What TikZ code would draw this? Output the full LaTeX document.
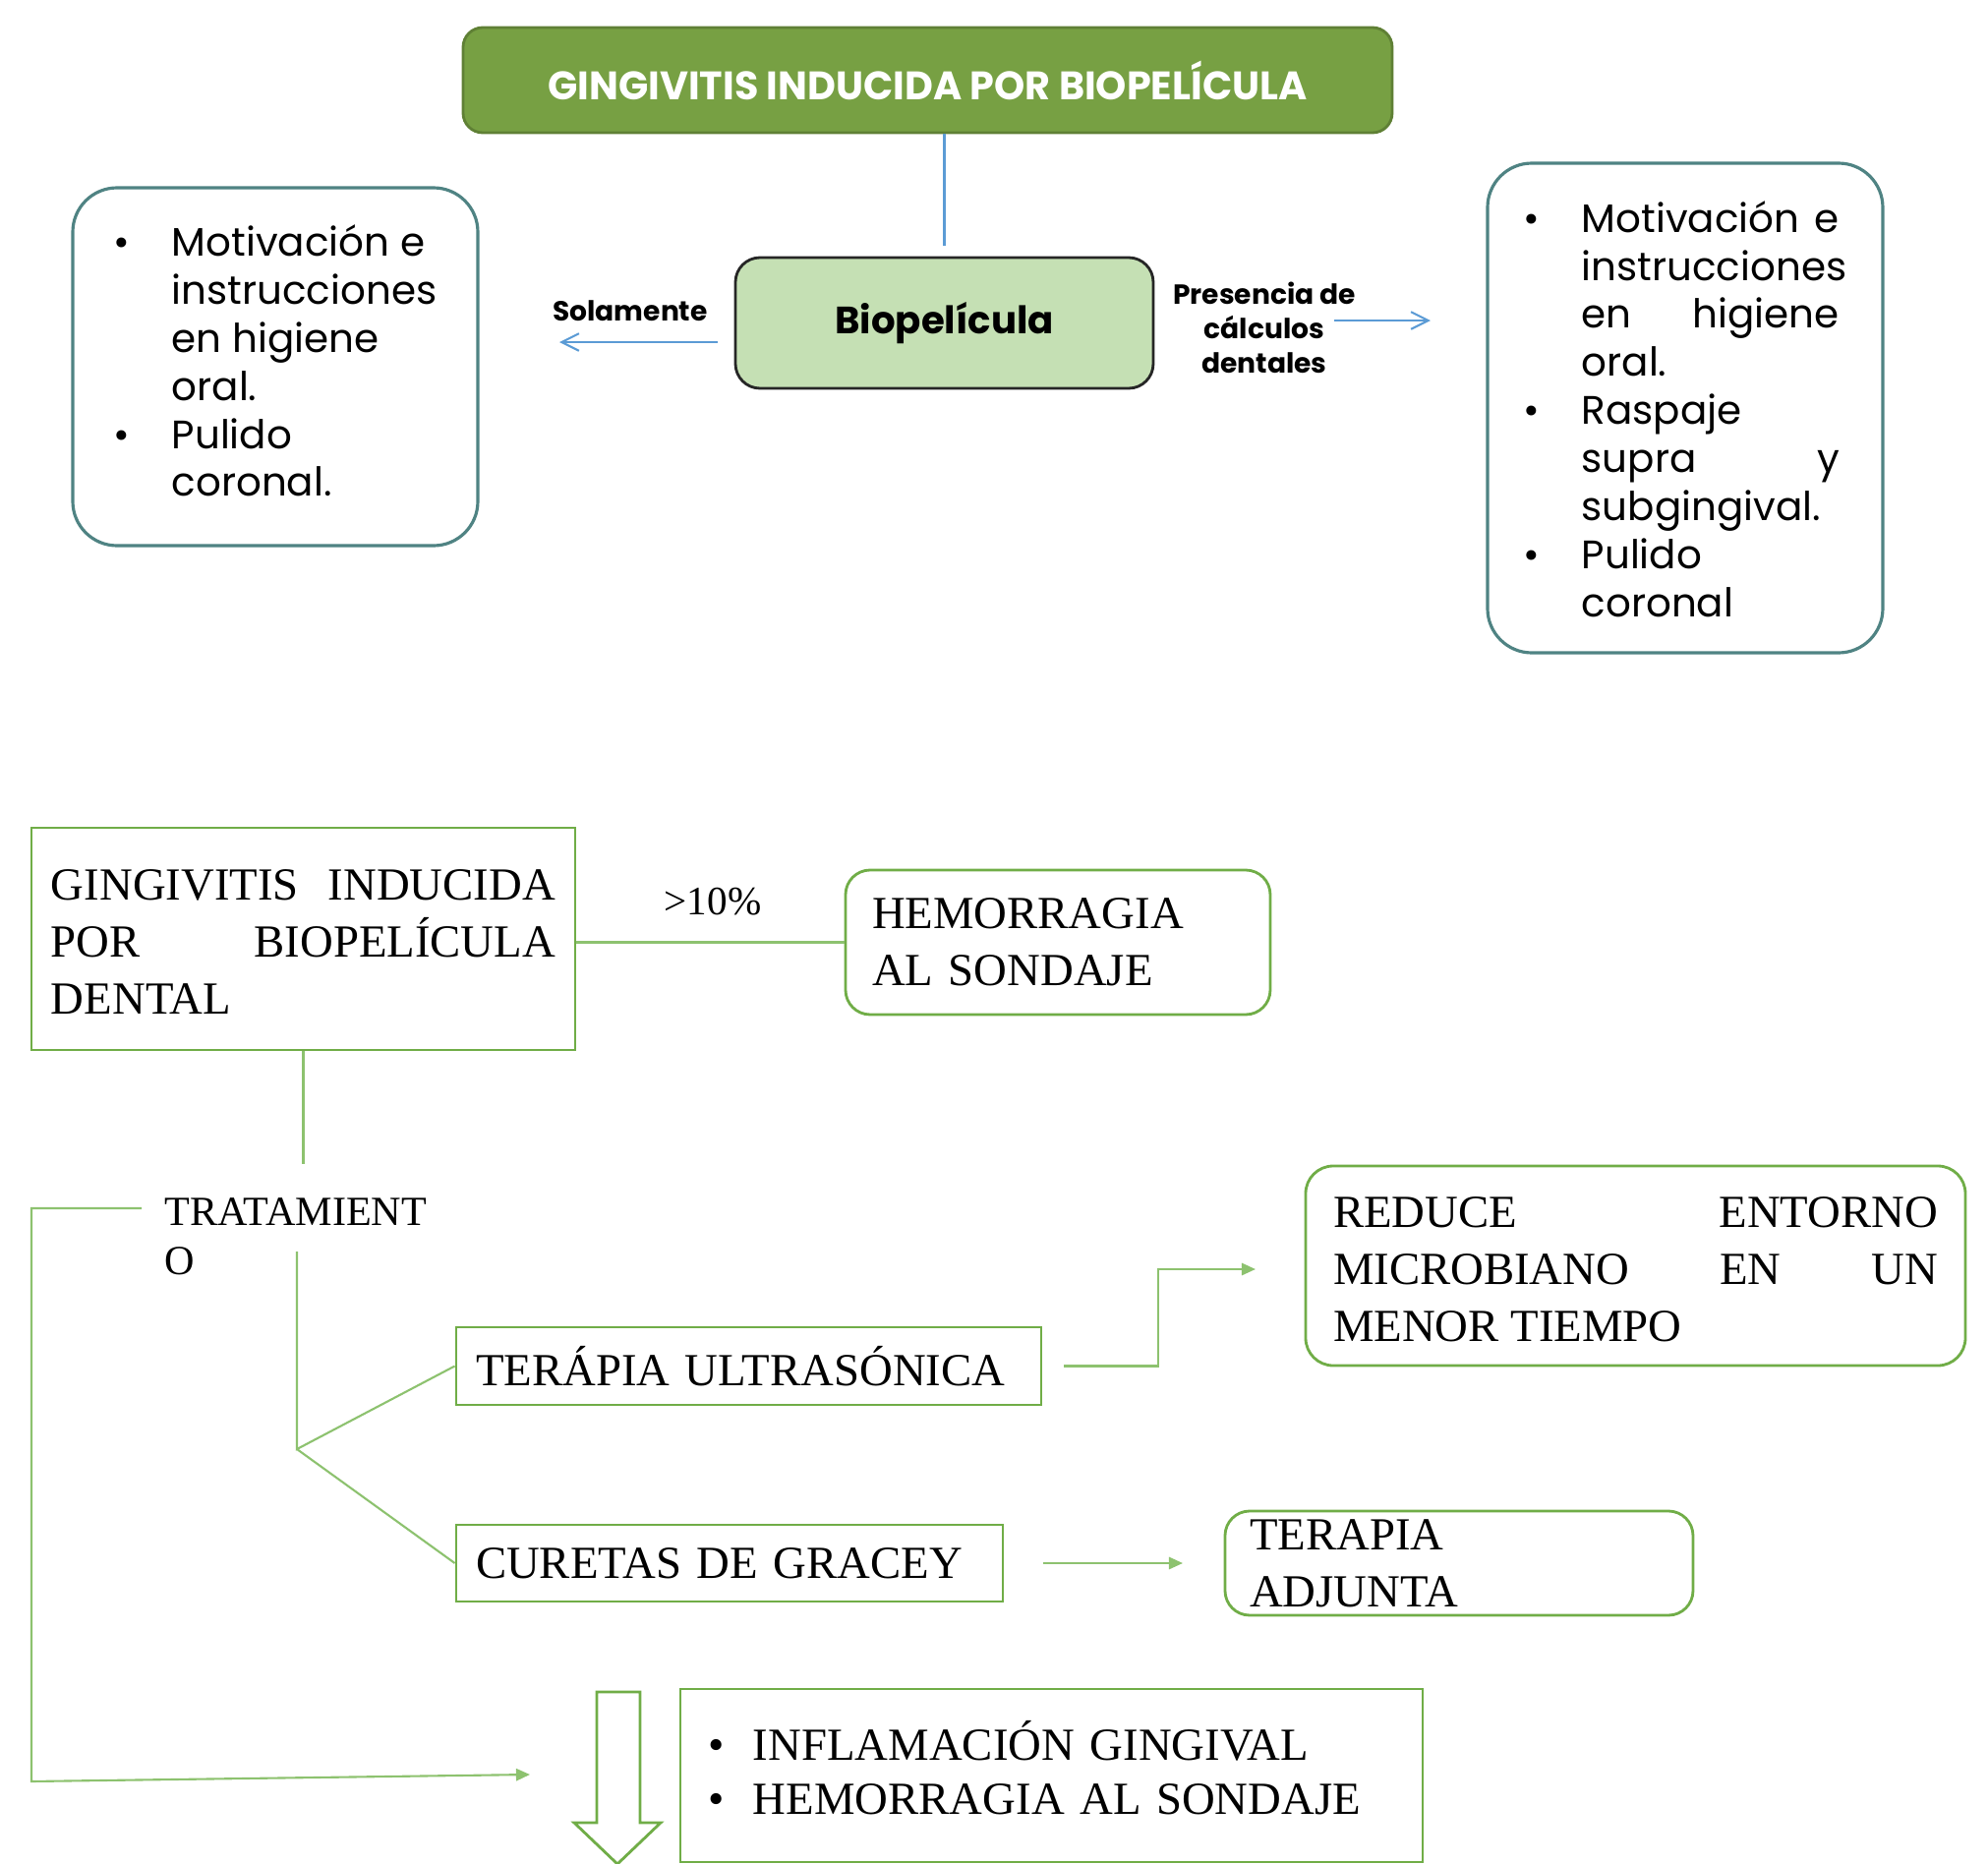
\documentclass[tikz,border=0pt]{standalone}
\usepackage{fontspec}
\usepackage{xcolor}
\usepackage{graphicx}
\usepackage{array}
\usepackage{tikz}
\usetikzlibrary{arrows.meta}
\setmainfont{Liberation Serif}
\newfontfamily\gothic{Poppins}
\definecolor{oliveg}{HTML}{77A043}
\definecolor{oliveline}{HTML}{5F8035}
\definecolor{biog}{HTML}{C5E0B4}
\definecolor{arrowblue}{HTML}{5B9BD5}
\definecolor{tealgray}{HTML}{4F8383}
\definecolor{boxg}{HTML}{70AD47}
\definecolor{lineg}{HTML}{8DC26F}

\begin{document}
\begin{tikzpicture}[
  serifbody/.style={font=\fontsize{13.3}{16.5}\selectfont},
  gothbold/.style={font=\gothic\bfseries\fontsize{8}{10}\selectfont},
  sqbox/.style={serifbody, draw=boxg, line width=0.8pt, inner sep=0pt},
  rdbox/.style={serifbody, draw=boxg, line width=0.8pt, rounded corners=0.25cm, inner sep=0pt},
  listbox/.style={draw=tealgray, line width=0.9pt, rounded corners=0.45cm, inner sep=0pt,
    font=\gothic\fontsize{11.5}{13.9}\selectfont},
  gline/.style={draw=lineg, line width=0.6pt},
  garrow/.style={gline, -{Triangle[length=4pt,width=3.5pt]}},
  barrow/.style={draw=arrowblue, line width=0.6pt, -{Straight Barb[length=5pt,width=5pt]}}
  ]
\useasboundingbox (0,0) rectangle (20.22,-18.96);

% upper part
\node[fill=oliveg, draw=oliveline, line width=0.8pt, rounded corners=0.2cm, minimum width=9.45cm,
  minimum height=1.07cm, text=white, font=\gothic\bfseries\fontsize{11.5}{14}\selectfont] (title)
  at (9.435,-0.815) {\resizebox{7.72cm}{\height}{GINGIVITIS INDUCIDA POR BIOPELÍCULA}};
\node[fill=biog, draw=black!85, line width=0.8pt, rounded corners=0.25cm, minimum width=4.25cm,
  minimum height=1.33cm, font=\gothic\bfseries\fontsize{11}{13}\selectfont] (bio)
  at (9.605,-3.285) {Biopelícula};
\draw[draw=arrowblue, line width=0.6pt, shorten >=0.11cm] (bio.north |- title.south) -- (bio.north);

\node[gothbold] (sola) at (6.41,-3.16) {Solamente};
\coordinate (solend) at (5.69,-3.48);
\draw[barrow] ([xshift=-0.17cm]bio.west |- solend) -- (solend);

\node[gothbold, align=center] (pres) at (12.86,-3.33) {Presencia de\\cálculos\\dentales};
\coordinate (presout) at (13.57,-3.26);
\coordinate (presend) at (14.55,-3.26);
\draw[barrow] (presout) -- (presend);

\node[listbox, minimum width=4.12cm, minimum height=3.64cm] (lbox) at (2.80,-3.73)
  {\begin{tabular}{@{}p{0.59cm}@{}l@{}}
   \textbullet & Motivación e\\
   & instrucciones\\
   & en higiene\\
   & oral.\\
   \textbullet & Pulido\\
   & coronal.
   \end{tabular}};
\node[listbox, minimum width=4.02cm, minimum height=4.98cm] (rbox) at (17.14,-4.15)
  {\begin{tabular}{@{}p{0.59cm}@{}l@{}}
   \rule{0pt}{0.48cm}\textbullet & \makebox[2.62cm][s]{Motivación e}\\
   & instrucciones\\
   & \makebox[2.62cm][s]{en higiene}\\
   & oral.\\
   \textbullet & Raspaje\\
   & \makebox[2.62cm][s]{supra y}\\
   & subgingival.\\
   \textbullet & Pulido\\
   & coronal
   \end{tabular}};

% lower part
\node[sqbox, minimum width=5.53cm, minimum height=2.26cm] (gbox) at (3.085,-9.55)
  {\begin{tabular}{@{}l@{}}
   \rule{0pt}{0.54cm}\makebox[5.13cm][s]{GINGIVITIS INDUCIDA}\\
   \makebox[5.13cm][s]{POR BIOPELÍCULA}\\
   DENTAL
   \end{tabular}};
\node[rdbox, minimum width=4.32cm, minimum height=1.47cm, text width=3.78cm, align=left,
  inner xsep=0.27cm] (hbox) at (10.76,-9.585) {HEMORRAGIA\\AL SONDAJE};
\draw[gline] (gbox.east |- hbox.west) -- (hbox.west);
\node[font=\fontsize{11.7}{14}\selectfont] (pct) at (7.25,-9.17) {>10\%};

\node[font=\fontsize{12}{14.2}\selectfont, align=left] (trat) at (3.01,-12.58) {TRATAMIENT\\O};
\coordinate (tratup) at (3.085,-11.84);
\draw[gline] (gbox.south) -- (tratup);

\node[sqbox, minimum width=5.95cm, minimum height=0.79cm, text width=5.55cm, align=left,
  inner xsep=0.2cm] (ubox) at (7.615,-13.895) {TERÁPIA ULTRASÓNICA};
\node[sqbox, minimum width=5.56cm, minimum height=0.78cm, text width=5.16cm, align=left,
  inner xsep=0.2cm] (cbox) at (7.42,-15.90) {CURETAS DE GRACEY};

\coordinate (tratdn) at (3.02,-12.73);
\coordinate (fork) at (3.02,-14.74);
\draw[gline] (tratdn) -- (fork) -- (ubox.west);
\draw[gline] (fork) -- (cbox.west);

\node[rdbox, rounded corners=0.28cm, minimum width=6.71cm, minimum height=2.03cm] (redbox)
  at (16.635,-12.875)
  {\begin{tabular}{@{}l@{}}
   \rule{0pt}{0.56cm}\makebox[6.15cm][s]{REDUCE ENTORNO}\\
   \makebox[6.15cm][s]{MICROBIANO EN UN}\\
   MENOR TIEMPO
   \end{tabular}};
\coordinate (redin) at (12.77,-12.91);
\draw[garrow] ([xshift=0.22cm]ubox.east) -- ++(0.96,0) |- (redin);

\node[rdbox, minimum width=4.76cm, minimum height=1.06cm, text width=4.26cm, align=left,
  inner xsep=0.25cm, inner ysep=0pt] (adjbox) at (14.84,-15.90) {TERAPIA\\ADJUNTA};
\coordinate (adjin) at (12.03,-15.90);
\draw[garrow] ([xshift=0.4cm]cbox.east) -- (adjin);

\coordinate (loopin) at (1.44,-12.29);
\coordinate (loopout) at (5.39,-18.05);
\draw[garrow] (loopin) -- (0.32,-12.29) -- (0.32,-18.12) -- (loopout);

\draw[draw=boxg, line width=0.8pt, fill=white] (6.07,-17.21) -- (6.51,-17.21) -- (6.51,-18.54)
  -- (6.72,-18.54) -- (6.28,-18.96) -- (5.84,-18.54) -- (6.07,-18.54) -- cycle;

\node[sqbox, minimum width=7.55cm, minimum height=1.76cm, text width=6.99cm, align=left,
  inner xsep=0.28cm, font=\fontsize{13.3}{15.6}\selectfont] (sbox) at (10.695,-18.06)
  {\begin{tabular}{@{}p{0.46cm}@{}l@{}}
   \textbullet & INFLAMACIÓN GINGIVAL\\
   \textbullet & HEMORRAGIA AL SONDAJE
   \end{tabular}};
\end{tikzpicture}
\end{document}
